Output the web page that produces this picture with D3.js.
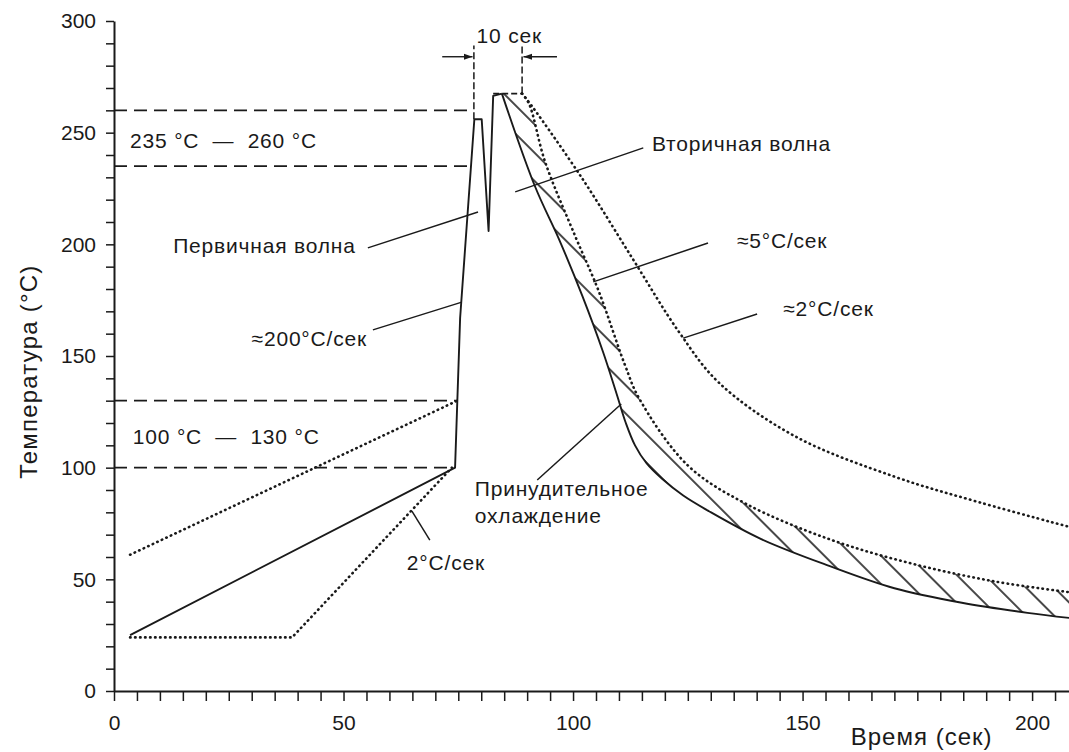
<!DOCTYPE html>
<html>
<head>
<meta charset="utf-8">
<script src="https://cdn.jsdelivr.net/npm/d3@7"></script>
<style>
  body { margin: 0; background: #fff; }
  svg { display: block; font-family: "Liberation Sans", Arial, sans-serif; }
</style>
</head>
<body>
<svg id="drawing_region"></svg>
<script>
// axis ticks
const xTicks = d3.range(0, 210, 5);
const xTickLabels = [0, 50, 100, 150, 200];
const yTicks = d3.range(0, 301, 10);
const yTickLabels = [0, 50, 100, 150, 200, 250, 300];

// temperature profile (time sec, temp C)
const mainProfile = [[3.5, 25], [74.3, 100], [75.4, 167], [78.5, 256], [80.1, 256],
                     [81.6, 206], [82.6, 266.5], [84.5, 267.5]];
const preheatUpper = [[3.5, 61], [74.8, 130]];
const preheatLower = [[3.5, 24], [38.8, 24], [73.6, 100]];
const plateau = [[82.6, 267.5], [88.9, 267.5]];
const forcedCooling = [[84.5, 267.5], [91.7, 226], [97, 202], [102, 177], [106.5, 152], [109.5, 133],
                       [111.5, 120], [113.5, 110], [116, 102], [119.4, 95], [124, 87.5], [129.6, 80.5],
                       [141, 68], [155.8, 56], [170, 46], [184.7, 39.5], [199, 35], [209, 32.5]];
const cooling5 = [[88.9, 267.5], [90.4, 263], [93.9, 237], [100.4, 204], [105.6, 179], [111.3, 146],
                  [114.4, 131], [125, 101], [137.5, 84], [155.8, 68], [173.9, 57], [192, 49], [209, 44]];
const cooling2 = [[88.9, 267.5], [91, 262], [102, 229.5], [113, 193.5], [123, 161], [131.8, 138],
                  [148.4, 114], [170, 96], [188.5, 84.5], [209, 73]];

// temperature windows: [temp, end time]
const rangeLevels = [[260, 78.2], [235, 78], [130, 74.8], [100, 74.3]];
// 10 sec window markers: [time, from temp]
const windowMarks = [[78.4, 256], [88.9, 267.5]];
const windowTop = 289;

const config = {
    width: 1069,
    height: 752,
    xrange: [114, 1078],
    yrange: [691, 21]
};

const svg = d3.select('#drawing_region')
    .attr('width', config.width)
    .attr('height', config.height);

const xscale = d3.scaleLinear().domain([0, 210]).range(config.xrange);
const yscale = d3.scaleLinear().domain([0, 300]).range(config.yrange);

const ink = '#1a1a1a';
const line = d3.line().x(d => xscale(d[0])).y(d => yscale(d[1]));
const smooth = d3.line().x(d => xscale(d[0])).y(d => yscale(d[1])).curve(d3.curveCatmullRom.alpha(0.5));

const defs = svg.append('defs');
defs.append('clipPath').attr('id', 'plot_clip')
    .append('rect')
    .attr('x', xscale(0)).attr('y', 0)
    .attr('width', config.width - xscale(0)).attr('height', yscale(0));

defs.append('pattern')
    .attr('id', 'hatch')
    .attr('patternUnits', 'userSpaceOnUse')
    .attr('width', 20).attr('height', 20)
    .attr('patternTransform', 'rotate(45)')
    .append('line')
    .attr('x1', 0).attr('y1', 10).attr('x2', 20).attr('y2', 10)
    .attr('stroke', ink).attr('stroke-width', 1.6);

// axes
const yaxis = d3.axisLeft(yscale)
    .tickValues(yTicks)
    .tickSize(8)
    .tickSizeOuter(0)
    .tickPadding(10)
    .tickFormat(d => yTickLabels.includes(d) ? d : '');

const xaxis = d3.axisBottom(xscale)
    .tickValues(xTicks)
    .tickSize(10)
    .tickSizeOuter(0)
    .tickPadding(14)
    .tickFormat(d => xTickLabels.includes(d) ? d : '');

const yaxis_group = svg.append('g')
    .attr('transform', `translate(${xscale(0)}, 0)`)
    .call(yaxis);

const xaxis_group = svg.append('g')
    .attr('transform', `translate(0, ${yscale(0)})`)
    .call(xaxis);

[yaxis_group, xaxis_group].forEach(g => {
    g.select('.domain').attr('stroke', ink).attr('stroke-width', 2);
    g.selectAll('.tick line').attr('stroke', ink).attr('stroke-width', 1.5);
    g.selectAll('.tick text')
        .attr('fill', ink)
        .style('font-size', '21px')
        .style('font-family', '"Liberation Sans", Arial, sans-serif');
});

svg.append('text')
    .attr('transform', `translate(37, ${yscale(143)}) rotate(-90)`)
    .attr('text-anchor', 'middle')
    .attr('fill', ink)
    .style('font-size', '24px')
    .style('letter-spacing', '1.2px')
    .text('Температура (°C)');

svg.append('text')
    .attr('x', xscale(160.5))
    .attr('y', 745)
    .attr('fill', ink)
    .style('font-size', '24px')
    .style('letter-spacing', '1px')
    .text('Время (сек)');

const chart = svg.append('g').attr('clip-path', 'url(#plot_clip)');

// hatched zone between forced cooling and 5 C/s curve
const upper = smooth(cooling5.slice().reverse()).replace(/^M/, 'L');
chart.append('path')
    .attr('d', smooth(forcedCooling) + upper + 'Z')
    .attr('fill', 'url(#hatch)')
    .attr('stroke', 'none');

// dashed temperature windows
chart.selectAll('.range')
    .data(rangeLevels)
    .enter()
    .append('line')
    .attr('x1', xscale(0))
    .attr('x2', d => xscale(d[1]))
    .attr('y1', d => yscale(d[0]))
    .attr('y2', d => yscale(d[0]))
    .attr('stroke', ink)
    .attr('stroke-width', 1.7)
    .attr('stroke-dasharray', '13,7');

// 10 sec markers
chart.selectAll('.mark')
    .data(windowMarks)
    .enter()
    .append('line')
    .attr('x1', d => xscale(d[0]))
    .attr('x2', d => xscale(d[0]))
    .attr('y1', d => yscale(d[1]))
    .attr('y2', yscale(windowTop))
    .attr('stroke', ink)
    .attr('stroke-width', 1.5)
    .attr('stroke-dasharray', '7,3');

chart.append('path').attr('d', line(plateau))
    .attr('fill', 'none').attr('stroke', ink).attr('stroke-width', 1.7)
    .attr('stroke-dasharray', '6,3');

// dotted curves
[[preheatUpper, line], [preheatLower, line], [cooling5, smooth], [cooling2, smooth]].forEach(([d, gen]) => {
    chart.append('path')
        .attr('d', gen(d))
        .attr('fill', 'none')
        .attr('stroke', ink)
        .attr('stroke-width', 2.6)
        .attr('stroke-linecap', 'round')
        .attr('stroke-dasharray', '0.5,4.5');
});

// solid curves
chart.append('path').attr('d', line(mainProfile))
    .attr('fill', 'none').attr('stroke', ink).attr('stroke-width', 1.9)
    .attr('stroke-linejoin', 'round');
chart.append('path').attr('d', smooth(forcedCooling))
    .attr('fill', 'none').attr('stroke', ink).attr('stroke-width', 1.9);

// arrows for the 10 sec window
defs.append('marker')
    .attr('id', 'arrow')
    .attr('viewBox', '0 0 10 10')
    .attr('refX', 10).attr('refY', 5)
    .attr('markerWidth', 9).attr('markerHeight', 9)
    .attr('markerUnits', 'userSpaceOnUse')
    .attr('orient', 'auto')
    .append('path')
    .attr('d', 'M0,1.5 L10,5 L0,8.5 Z')
    .attr('fill', ink);

const arrowY = yscale(284);
svg.append('line')
    .attr('x1', xscale(71.5)).attr('x2', xscale(78.1))
    .attr('y1', arrowY).attr('y2', arrowY)
    .attr('stroke', ink).attr('stroke-width', 1.4)
    .attr('marker-end', 'url(#arrow)');
svg.append('line')
    .attr('x1', xscale(96.5)).attr('x2', xscale(89.2))
    .attr('y1', arrowY).attr('y2', arrowY)
    .attr('stroke', ink).attr('stroke-width', 1.4)
    .attr('marker-end', 'url(#arrow)');

// leader lines [[t1, T1], [t2, T2]]
const leaders = [
    [[55.3, 198.4], [79.3, 214.5]],
    [[56.4, 161.7], [75.6, 174]],
    [[64.9, 80.5], [68.8, 67.6]],
    [[92.2, 94.5], [110.5, 128.5]],
    [[115.3, 243.2], [87.4, 223.5]],
    [[104.4, 183.2], [129.4, 200.6]],
    [[124, 158], [140.1, 168.8]]
];
svg.selectAll('.leader')
    .data(leaders)
    .enter()
    .append('path')
    .attr('d', d => line(d))
    .attr('fill', 'none')
    .attr('stroke', ink)
    .attr('stroke-width', 1.5);

// annotation labels [text, t, T, anchor]
const notes = [
    ['235 °C\u00a0\u00a0—\u00a0\u00a0260 °C', 3.5, 243, 'start'],
    ['100 °C\u00a0\u00a0—\u00a0\u00a0130 °C', 4.1, 110.5, 'start'],
    ['Первичная волна', 12.9, 196, 'start'],
    ['≈200°C/сек', 55.1, 154.5, 'end'],
    ['2°C/сек', 63.8, 54, 'start'],
    ['Принудительное', 78.6, 87.3, 'start'],
    ['охлаждение', 78.6, 75.2, 'start'],
    ['Вторичная волна', 117.2, 242, 'start'],
    ['≈5°C/сек', 135.7, 198.4, 'start'],
    ['≈2°C/сек', 145.8, 168, 'start'],
    ['10 сек', 86.1, 290, 'middle']
];
svg.selectAll('.note')
    .data(notes)
    .enter()
    .append('text')
    .attr('x', d => xscale(d[1]))
    .attr('y', d => yscale(d[2]))
    .attr('text-anchor', d => d[3])
    .attr('fill', ink)
    .style('font-size', '21px')
    .style('letter-spacing', '0.8px')
    .text(d => d[0]);
</script>
</body>
</html>
